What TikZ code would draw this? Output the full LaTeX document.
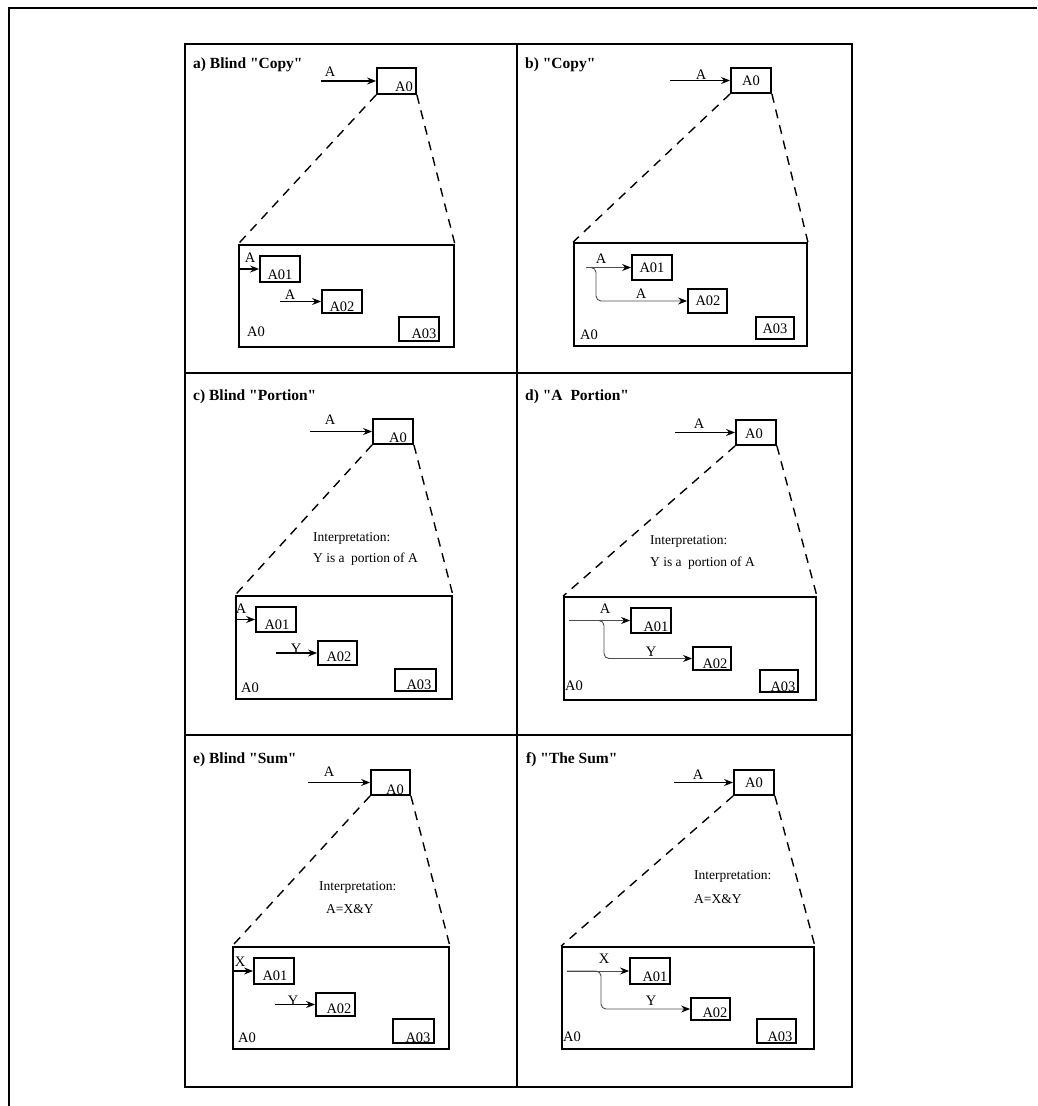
\documentclass[tikz,border=0pt]{standalone}
\usepackage{fontspec}
\setmainfont{Liberation Serif}[Ligatures=TeXOff]
\usetikzlibrary{arrows.meta}
\newcommand{\mkbox}[7]{%
  \node[boxn, minimum width={(#4-#2)*1pt}, minimum height={(#5-#3)*1pt}] (#1) at ({(#2+#4)/2},{(#3+#5)/2}) {};
  \node[lbl] (#1t) at (#6) {#7};}
\begin{document}
\begin{tikzpicture}[x=1pt,y=-1pt,
 boxn/.style={draw, line width=1.8pt, rectangle, inner sep=0pt},
 lbl/.style={inner sep=0pt, font=\fontsize{14.5}{16}\selectfont},
 ttl/.style={inner sep=0pt, anchor=base west, font=\bfseries\fontsize{15.5}{17}\selectfont},
 itp/.style={inner sep=0pt, anchor=base west, font=\fontsize{13.5}{15}\selectfont},
 arr/.style={line width=1.3pt, -{Stealth[length=9pt,width=7pt]}},
 farr/.style={line width=0.9pt, draw=black!70, -{Stealth[length=9pt,width=7pt,color=black]}},
 dsh/.style={line width=1.4pt, dash pattern=on 9pt off 7pt},
 tbl/.style={line width=1.3pt}
]
\useasboundingbox (0,0) rectangle (1037,1106);
% outer frame (top and left only)
\draw[line width=2pt] (1037,8) -- (9,8) -- (9,1106);
% table
\draw[tbl] (185,44) rectangle (852,1087);
\draw[tbl] (517,44) -- (517,1087);
\draw[tbl] (185,373) -- (852,373);
\draw[tbl] (185,735) -- (852,735);

% ---------------- panel a
\node[ttl] (ta) at (193,68) {a) Blind "Copy"};
\mkbox{aA0}{377}{68}{416}{94}{404,87}{A0}
\coordinate (aS) at (321,81);
\draw[arr] (aS) -- (aA0.west);
\node[lbl] (aLA) at (330,72) {A};
\mkbox{aIn}{239}{245}{454}{347}{256,332}{A0}
\draw[dsh] (aA0.south west) -- (aIn.north west);
\draw[dsh] (aA0.south east) -- (aIn.north east);
\mkbox{aA01}{260}{256}{300}{282}{280,275}{A01}
\coordinate (aS1) at (aIn.west |- aA01.west);
\draw[arr] (aS1) -- (aA01.west);
\node[lbl] (aL1) at (250,258) {A};
\mkbox{aA02}{322}{290}{362}{313}{342,307}{A02}
\coordinate (aS2) at (280,301.5);
\draw[arr] (aS2) -- (aA02.west);
\node[lbl] (aL2) at (290,295) {A};
\mkbox{aA03}{399}{317}{439}{341}{424,334}{A03}

% ---------------- panel b
\node[ttl] (tb) at (525,68) {b) "Copy"};
\mkbox{bA0}{731}{68}{771}{93}{751,81}{A0}
\coordinate (bS) at (670,80.5);
\draw[arr] (bS) -- (bA0.west);
\node[lbl] (bLA) at (701,75) {A};
\mkbox{bIn}{574}{243}{807}{346}{589,335}{A0}
\draw[dsh] (bA0.south west) -- (bIn.north west);
\draw[dsh] (bA0.south east) -- (bIn.north east);
\mkbox{bA01}{632}{255}{672}{280}{652,268}{A01}
\mkbox{bA02}{688}{289}{727}{313}{708,301}{A02}
\mkbox{bA03}{756}{317}{794}{339}{775,329}{A03}
\coordinate (bS1) at (586,267.5);
\draw[farr] (bS1) -- (bA01.west);
\draw[farr, rounded corners=5pt] (bS1) -- ++(10,0) |- (bA02.west);
\node[lbl] (bL1) at (601,259) {A};
\node[lbl] (bL2) at (641,294) {A};

% ---------------- panel c
\node[ttl] (tc) at (193,400) {c) Blind "Portion"};
\mkbox{cA0}{373}{419}{413}{444}{398,438}{A0}
\coordinate (cS) at (310,431.5);
\draw[arr] (cS) -- (cA0.west);
\node[lbl] (cLA) at (330,420) {A};
\node[itp] (ci1) at (313,541) {Interpretation:};
\node[itp] (ci2) at (313,562) {Y is a\hspace{3pt} portion of A};
\mkbox{cIn}{236}{596}{452}{699}{250,688}{A0}
\draw[dsh] (cA0.south west) -- (cIn.north west);
\draw[dsh] (cA0.south east) -- (cIn.north east);
\mkbox{cA01}{256}{607}{296}{632}{277,625}{A01}
\coordinate (cS1) at (cIn.west |- cA01.west);
\draw[arr] (cS1) -- (cA01.west);
\node[lbl] (cL1) at (241,609) {A};
\mkbox{cA02}{318}{641}{357}{665}{339,657}{A02}
\coordinate (cS2) at (276,653);
\draw[arr] (cS2) -- (cA02.west);
\node[lbl] (cL2) at (296,649) {Y};
\mkbox{cA03}{395}{669}{436}{691}{419,685}{A03}

% ---------------- panel d
\node[ttl] (td) at (525,400) {d) "A\hspace{4pt} Portion"};
\mkbox{dA0}{736}{420}{776}{445}{754,434}{A0}
\coordinate (dS) at (675,432.5);
\draw[arr] (dS) -- (dA0.west);
\node[lbl] (dLA) at (699,424) {A};
\node[itp] (di1) at (650,544) {Interpretation:};
\node[itp] (di2) at (650,566) {Y is a\hspace{3pt} portion of A};
\mkbox{dIn}{564}{597}{816}{700}{574,686}{A0}
\draw[dsh] (dA0.south west) -- (dIn.north west);
\draw[dsh] (dA0.south east) -- (dIn.north east);
\mkbox{dA01}{631}{608}{671}{633}{656,627}{A01}
\mkbox{dA02}{693}{647}{731}{670}{715,664}{A02}
\mkbox{dA03}{760}{670}{798}{692}{783,687}{A03}
\coordinate (dS1) at (569,620.5);
\draw[farr] (dS1) -- (dA01.west);
\draw[farr, rounded corners=5pt] (dS1) -- ++(35,0) |- (dA02.west);
\node[lbl] (dL1) at (605,609) {A};
\node[lbl] (dL2) at (651,652) {Y};

% ---------------- panel e
\node[ttl] (te) at (193,763) {e) Blind "Sum"};
\mkbox{eA0}{371}{770}{410}{795}{395,790}{A0}
\coordinate (eS) at (308,782.5);
\draw[arr] (eS) -- (eA0.west);
\node[lbl] (eLA) at (329,772) {A};
\node[itp] (ei1) at (319,890) {Interpretation:};
\node[itp] (ei2) at (326,913) {A=X\&Y};
\mkbox{eIn}{233}{947}{449}{1049}{247,1038}{A0}
\draw[dsh] (eA0.south west) -- (eIn.north west);
\draw[dsh] (eA0.south east) -- (eIn.north east);
\mkbox{eA01}{254}{958}{294}{984}{275,976}{A01}
\coordinate (eS1) at (eIn.west |- eA01.west);
\draw[arr] (eS1) -- (eA01.west);
\node[lbl] (eL1) at (240,962) {X};
\mkbox{eA02}{316}{993}{355}{1016}{339,1009}{A02}
\coordinate (eS2) at (275,1004.5);
\draw[arr] (eS2) -- (eA02.west);
\node[lbl] (eL2) at (293,1001) {Y};
\mkbox{eA03}{393}{1019}{434}{1043}{418,1038}{A03}

% ---------------- panel f
\node[ttl] (tf) at (526,763) {f) "The Sum"};
\mkbox{fA0}{734}{770}{774}{795}{754,783}{A0}
\coordinate (fS) at (674,782.5);
\draw[arr] (fS) -- (fA0.west);
\node[lbl] (fLA) at (698,775) {A};
\node[itp] (fi1) at (694,879) {Interpretation:};
\node[itp] (fi2) at (694,903) {A=X\&Y};
\mkbox{fIn}{562}{947}{814}{1049}{572,1037}{A0}
\draw[dsh] (fA0.south west) -- (fIn.north west);
\draw[dsh] (fA0.south east) -- (fIn.north east);
\mkbox{fA01}{630}{958}{670}{984}{655,977}{A01}
\mkbox{fA02}{691}{998}{730}{1020}{715,1013}{A02}
\mkbox{fA03}{757}{1019}{796}{1043}{780,1037}{A03}
\coordinate (fS1) at (567,971);
\draw[farr] (fS1) -- (fA01.west);
\draw[farr, rounded corners=5pt] (fS1) -- ++(34,0) |- (fA02.west);
\node[lbl] (fL1) at (604,959) {X};
\node[lbl] (fL2) at (651,1001) {Y};
\end{tikzpicture}
\end{document}
